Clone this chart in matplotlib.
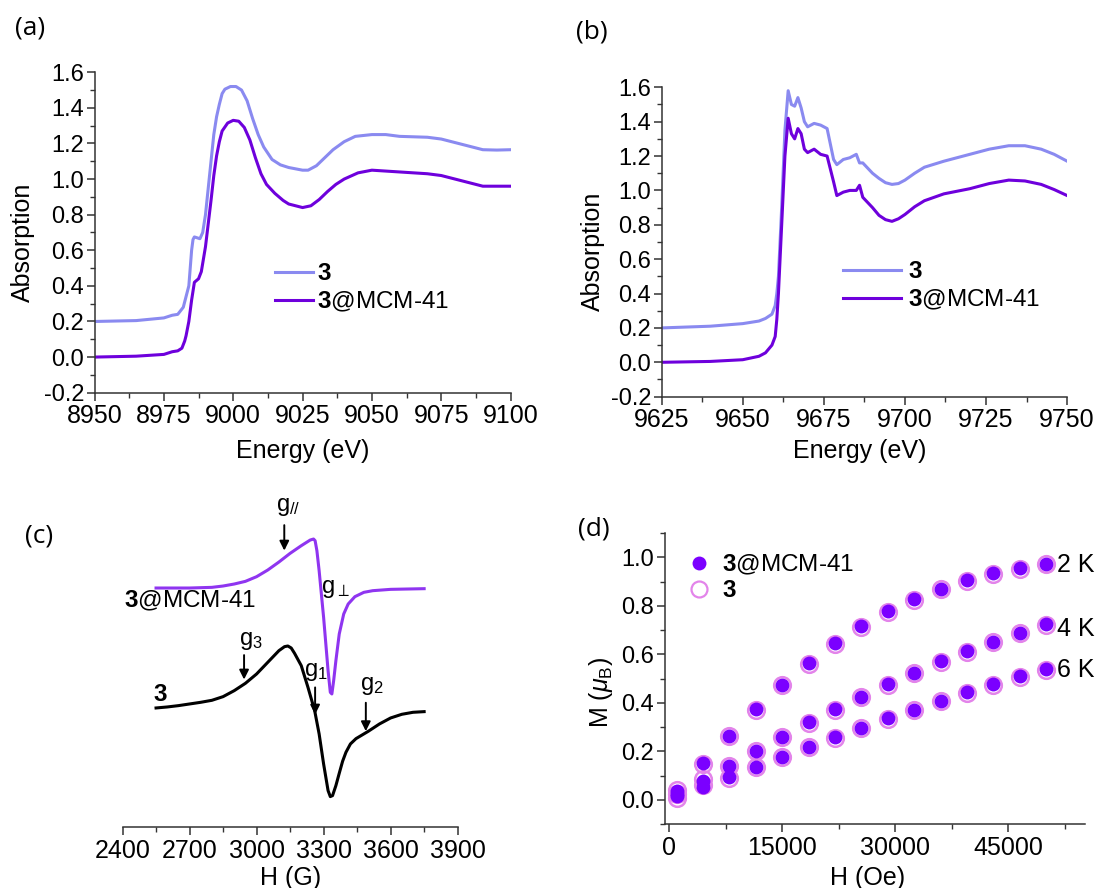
import numpy as np
import matplotlib
matplotlib.use('Agg')
import matplotlib.pyplot as plt
from matplotlib.ticker import MultipleLocator, FormatStrFormatter

plt.rcParams['font.family'] = ['Liberation Sans', 'DejaVu Sans']
plt.rcParams['mathtext.fontset'] = 'custom'
plt.rcParams['mathtext.rm'] = 'Liberation Sans'
plt.rcParams['mathtext.it'] = 'Liberation Sans:italic'
plt.rcParams['mathtext.bf'] = 'Liberation Sans:bold'

# ---- (a) XANES, Cu K-edge ----
ea_3 = [8950, 8965, 8975, 8978, 8980, 8982, 8984, 8985, 8985.5, 8986, 8988, 8989, 8990, 8991,
        8992, 8993, 8994, 8995, 8996, 8997, 8999, 9001, 9003, 9005, 9007, 9009, 9011, 9014,
        9017, 9020, 9025, 9027, 9030, 9033, 9036, 9040, 9044, 9050, 9055, 9060, 9070, 9075,
        9080, 9085, 9090, 9095, 9100]
abs_a_3 = [0.20, 0.205, 0.22, 0.235, 0.24, 0.28, 0.40, 0.60, 0.66, 0.675, 0.665, 0.70, 0.80, 0.95,
           1.10, 1.25, 1.35, 1.42, 1.48, 1.505, 1.52, 1.52, 1.50, 1.44, 1.34, 1.25, 1.18, 1.11,
           1.08, 1.065, 1.05, 1.05, 1.075, 1.12, 1.165, 1.21, 1.24, 1.25, 1.25, 1.24, 1.235, 1.225,
           1.205, 1.185, 1.165, 1.163, 1.165]
ea_mcm = [8950, 8965, 8975, 8978, 8980, 8981.5, 8982.5, 8983, 8984, 8985, 8986, 8987.5, 8988.5,
          8990, 8991, 8992, 8993, 8994, 8995, 8996, 8998, 9000, 9002, 9004, 9006, 9008, 9010,
          9012, 9015, 9018, 9020, 9025, 9028, 9031, 9034, 9037, 9040, 9045, 9050, 9060, 9070,
          9075, 9080, 9085, 9090, 9100]
abs_a_mcm = [0.0, 0.005, 0.015, 0.03, 0.035, 0.05, 0.09, 0.12, 0.20, 0.32, 0.42, 0.44, 0.48,
             0.62, 0.75, 0.88, 1.02, 1.13, 1.21, 1.27, 1.315, 1.33, 1.325, 1.29, 1.22, 1.12, 1.03,
             0.97, 0.92, 0.88, 0.86, 0.84, 0.85, 0.885, 0.93, 0.97, 1.00, 1.035, 1.05, 1.04, 1.03,
             1.02, 1.00, 0.98, 0.96, 0.96]

# ---- (b) XANES, Zn K-edge ----
eb = [9625, 9640, 9650, 9655, 9657, 9659, 9660, 9660.5, 9661, 9662, 9663, 9664, 9665, 9666,
      9667, 9668, 9669, 9670, 9672, 9674, 9676, 9678, 9679, 9681, 9683, 9685, 9686, 9687,
      9690, 9692, 9694, 9696, 9698, 9700, 9703, 9706, 9712, 9720, 9726, 9732, 9737, 9742,
      9746, 9750]
abs_b_3 = [0.20, 0.21, 0.225, 0.24, 0.255, 0.28, 0.33, 0.40, 0.50, 0.90, 1.35, 1.58, 1.50, 1.49,
           1.54, 1.48, 1.40, 1.37, 1.39, 1.38, 1.36, 1.18, 1.15, 1.18, 1.19, 1.21, 1.16, 1.16,
           1.10, 1.07, 1.045, 1.035, 1.04, 1.06, 1.10, 1.135, 1.17, 1.21, 1.24, 1.26, 1.26, 1.24,
           1.21, 1.17]
abs_b_mcm = [0.0, 0.005, 0.015, 0.035, 0.055, 0.10, 0.15, 0.25, 0.40, 0.80, 1.20, 1.42, 1.33,
             1.30, 1.36, 1.33, 1.24, 1.22, 1.24, 1.21, 1.20, 1.05, 0.97, 0.99, 1.00, 1.00, 1.03,
             0.96, 0.90, 0.855, 0.83, 0.82, 0.835, 0.86, 0.905, 0.94, 0.98, 1.01, 1.04, 1.06,
             1.055, 1.035, 1.005, 0.97]

# ---- (c) EPR spectra (arb. units) ----
h_mcm = [2550, 2700, 2800, 2850, 2900, 2950, 3000, 3050, 3100, 3150, 3200, 3240, 3255, 3262,
         3270, 3280, 3290, 3300, 3310, 3320, 3330, 3337, 3345, 3355, 3370, 3390, 3410, 3440,
         3480, 3520, 3600, 3750]
epr_mcm = [7.18, 7.18, 7.20, 7.24, 7.30, 7.38, 7.52, 7.72, 7.96, 8.22, 8.45, 8.62, 8.65, 8.60,
           8.30, 7.70, 7.00, 6.30, 5.50, 4.70, 4.05, 4.00, 4.40, 5.00, 5.80, 6.40, 6.70, 6.92,
           7.05, 7.10, 7.14, 7.16]
h_3 = [2550, 2600, 2650, 2700, 2750, 2800, 2850, 2900, 2950, 3000, 3050, 3100, 3125, 3140,
       3155, 3170, 3200, 3230, 3260, 3280, 3300, 3320, 3330, 3340, 3355, 3370, 3385, 3400,
       3420, 3445, 3470, 3500, 3550, 3600, 3650, 3700, 3750]
epr_3 = [3.58, 3.61, 3.65, 3.70, 3.75, 3.81, 3.92, 4.10, 4.32, 4.60, 4.95, 5.30, 5.42, 5.44,
         5.38, 5.22, 4.85, 4.20, 3.50, 2.80, 1.90, 1.10, 0.92, 0.95, 1.25, 1.62, 1.98, 2.25,
         2.50, 2.66, 2.76, 2.88, 3.10, 3.28, 3.39, 3.45, 3.47]

# ---- (d) magnetization ----
h_oe = [1000, 4500, 8000, 11500, 15000, 18500, 22000, 25500, 29000, 32500, 36000, 39500,
        43000, 46500, 50000]
m_mcm_2k = [0.035, 0.150, 0.264, 0.374, 0.475, 0.564, 0.645, 0.717, 0.777, 0.828, 0.871, 0.905,
            0.934, 0.956, 0.974]
m_mcm_4k = [0.022, 0.078, 0.140, 0.202, 0.260, 0.319, 0.374, 0.426, 0.477, 0.525, 0.571, 0.612,
            0.653, 0.690, 0.725]
m_mcm_6k = [0.015, 0.054, 0.092, 0.136, 0.177, 0.219, 0.257, 0.298, 0.336, 0.371, 0.409, 0.443,
            0.477, 0.509, 0.539]
m_3_2k = [0.040, 0.148, 0.262, 0.372, 0.473, 0.562, 0.643, 0.715, 0.775, 0.826, 0.869, 0.903,
          0.932, 0.954, 0.972]
m_3_4k = [0.025, 0.085, 0.138, 0.200, 0.258, 0.317, 0.372, 0.424, 0.475, 0.523, 0.569, 0.610,
          0.651, 0.688, 0.723]
m_3_6k = [0.008, 0.060, 0.090, 0.134, 0.175, 0.217, 0.255, 0.296, 0.334, 0.369, 0.407, 0.441,
          0.475, 0.507, 0.537]
temp_labels = ['2 K', '4 K', '6 K']
temp_label_y = [0.968, 0.705, 0.536]

light = '#8a8af0'
dark = '#6e00dc'
epr_purple = '#8f35f0'
fill_c = '#7b00ff'
open_c = '#e384ea'
spine_c = '#333333'

fig = plt.figure(figsize=(10.98, 8.88), dpi=100)

lab3 = r'$\mathbf{3}$'
labmcm = r'$\mathbf{3}$@MCM-41'


def style_axes(ax, ysize=17, xsize=18):
    for s in ['top', 'right']:
        ax.spines[s].set_visible(False)
    for s in ['left', 'bottom']:
        ax.spines[s].set_linewidth(1.1)
        ax.spines[s].set_color(spine_c)
    ax.tick_params(which='major', direction='out', length=6, width=1.1, color=spine_c)
    ax.tick_params(which='minor', direction='out', length=3.5, width=1.0, color=spine_c)
    ax.tick_params(axis='y', which='major', labelsize=ysize, pad=1.5)
    ax.tick_params(axis='x', which='major', labelsize=xsize, pad=2.5)


# (a)
ax_a = fig.add_axes([0.0861, 0.5578, 0.3789, 0.3608])
ax_a.plot(ea_3, abs_a_3, color=light, lw=2.2, label=lab3)
ax_a.plot(ea_mcm, abs_a_mcm, color=dark, lw=2.2, label=labmcm)
ax_a.set_xlim(8950, 9100)
ax_a.set_ylim(-0.2, 1.6)
ax_a.xaxis.set_major_locator(MultipleLocator(25))
ax_a.xaxis.set_minor_locator(MultipleLocator(12.5))
ax_a.yaxis.set_major_locator(MultipleLocator(0.2))
ax_a.yaxis.set_minor_locator(MultipleLocator(0.1))
ax_a.yaxis.set_major_formatter(FormatStrFormatter('%.1f'))
style_axes(ax_a)
ax_a.set_xlabel('Energy (eV)', fontsize=18)
ax_a.set_ylabel('Absorption', fontsize=18)
ax_a.xaxis.set_label_coords(0.5, -0.1445)
ax_a.yaxis.set_label_coords(-0.143, 0.47)
ax_a.legend(loc='center left', bbox_to_anchor=(0.434, 0.324), frameon=False, fontsize=17.5,
            borderpad=0, borderaxespad=0, handlelength=1.58, handletextpad=0.15,
            labelspacing=0.2)

# (b)
ax_b = fig.add_axes([0.6026, 0.5533, 0.3693, 0.3484])
ax_b.plot(eb, abs_b_3, color=light, lw=2.2, label=lab3)
ax_b.plot(eb, abs_b_mcm, color=dark, lw=2.2, label=labmcm)
ax_b.set_xlim(9625, 9750)
ax_b.set_ylim(-0.2, 1.6)
ax_b.xaxis.set_major_locator(MultipleLocator(25))
ax_b.xaxis.set_minor_locator(MultipleLocator(12.5))
ax_b.yaxis.set_major_locator(MultipleLocator(0.2))
ax_b.yaxis.set_minor_locator(MultipleLocator(0.1))
ax_b.yaxis.set_major_formatter(FormatStrFormatter('%.1f'))
style_axes(ax_b)
ax_b.set_xlabel('Energy (eV)', fontsize=18)
ax_b.set_ylabel('Absorption', fontsize=18)
ax_b.xaxis.set_label_coords(0.489, -0.137)
ax_b.yaxis.set_label_coords(-0.14, 0.469)
ax_b.legend(loc='center left', bbox_to_anchor=(0.447, 0.356), frameon=False, fontsize=17.5,
            borderpad=0, borderaxespad=0, handlelength=2.38, handletextpad=0.29,
            labelspacing=0.2)

# (c)
ax_c = fig.add_axes([0.1116, 0.0684, 0.3052, 0.391])
ax_c.plot(h_mcm, epr_mcm, color=epr_purple, lw=2.2)
ax_c.plot(h_3, epr_3, color='black', lw=2.2)
ax_c.set_xlim(2400, 3900)
ax_c.set_ylim(0, 10.42)
ax_c.xaxis.set_major_locator(MultipleLocator(300))
ax_c.xaxis.set_minor_locator(MultipleLocator(150))
for s in ['top', 'right', 'left']:
    ax_c.spines[s].set_visible(False)
ax_c.spines['bottom'].set_linewidth(1.1)
ax_c.spines['bottom'].set_color(spine_c)
ax_c.set_yticks([])
ax_c.tick_params(which='major', direction='out', length=6, width=1.1, color=spine_c,
                 labelsize=18, pad=2.5)
ax_c.tick_params(which='minor', direction='out', length=3.5, width=1.0, color=spine_c)
ax_c.set_xlabel('H (G)', fontsize=18)
ax_c.xaxis.set_label_coords(0.5, -0.112)

arrows_c = [(3124, 9.15, 8.22), (2944, 5.25, 4.35), (3262, 4.28, 3.30), (3489, 3.82, 2.80)]
for x0, y0, y1 in arrows_c:
    ax_c.annotate('', xy=(x0, y1), xytext=(x0, y0),
                  arrowprops=dict(arrowstyle='-|>', color='black', lw=1.4, mutation_scale=14))
g_labels = [(3141, 9.6, r'g$_{//}$'), (3352, 7.15, r'g$_{\perp}$'),
            (2975, 5.6, r'g$_{3}$'), (3266, 4.65, r'g$_{1}$'), (3515, 4.25, r'g$_{2}$')]
for x0, y0, t in g_labels:
    ax_c.text(x0, y0, t, fontsize=17, ha='center', va='center')
ax_c.text(2408, 6.8, labmcm, fontsize=17.5, ha='left', va='center')
ax_c.text(2570, 3.98, lab3, fontsize=17.5, ha='center', va='center')

# (d)
ax_d = fig.add_axes([0.6052, 0.0721, 0.3827, 0.3274])
for m in [m_3_2k, m_3_4k, m_3_6k]:
    ax_d.plot(h_oe, m, 'o', ms=12, mfc='none', mec=open_c, mew=1.8, ls='none')
for m in [m_mcm_2k, m_mcm_4k, m_mcm_6k]:
    ax_d.plot(h_oe, m, 'o', ms=10, mfc=fill_c, mec=fill_c, mew=0, ls='none')
ax_d.plot([], [], 'o', ms=10, mfc=fill_c, mec=fill_c, mew=0, ls='none', label=labmcm)
ax_d.plot([], [], 'o', ms=11.5, mfc='none', mec=open_c, mew=1.6, ls='none', label=lab3)
ax_d.set_xlim(-610, 55120)
ax_d.set_ylim(-0.1, 1.1)
ax_d.xaxis.set_major_locator(MultipleLocator(15000))
ax_d.xaxis.set_minor_locator(MultipleLocator(7500))
ax_d.yaxis.set_major_locator(MultipleLocator(0.2))
ax_d.yaxis.set_minor_locator(MultipleLocator(0.1))
ax_d.yaxis.set_major_formatter(FormatStrFormatter('%.1f'))
style_axes(ax_d)
ax_d.set_xlabel('H (Oe)', fontsize=18)
ax_d.set_ylabel(r'M ($\mu_\mathrm{B}$)', fontsize=18)
ax_d.xaxis.set_label_coords(0.483, -0.1434)
ax_d.yaxis.set_label_coords(-0.118, 0.454)
ax_d.legend(loc='center left', bbox_to_anchor=(0.0535, 0.848), frameon=False, fontsize=17.5,
            borderpad=0, borderaxespad=0, handlelength=1.0, handletextpad=0.45,
            labelspacing=0.15)
for t, y in zip(temp_labels, temp_label_y):
    ax_d.text(51400, y, t, fontsize=18, ha='left', va='center')

# panel letters
for x, y, t in [(15, 28, '(a)'), (576, 32, '(b)'), (25, 536, '(c)'), (578, 529, '(d)')]:
    fig.text(x / 1098, 1 - y / 888, t, fontsize=19, family='Open Sans', ha='left', va='center')

fig.savefig('out.png', dpi=100)
